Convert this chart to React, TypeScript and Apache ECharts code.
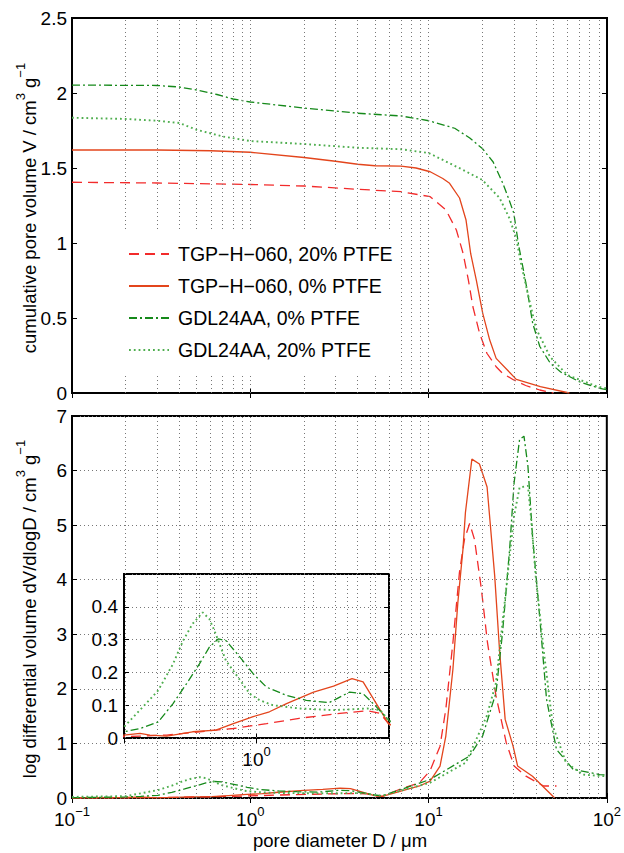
import React, { useEffect, useRef } from 'react';
import * as echarts from 'echarts';

const FONT = '"Liberation Sans", Arial, Helvetica, sans-serif';

// Series names (legend order)
const NAMES = ['TGP−H−060, 20% PTFE', 'TGP−H−060, 0% PTFE', 'GDL24AA, 0% PTFE', 'GDL24AA, 20% PTFE'];

// ---- Top panel: cumulative pore volume (cm^3/g) vs pore diameter (µm)
const cumD_TGP20 = [0.1, 0.3, 1.0, 2.0, 4.0, 7.0, 10.2, 12.5, 14.3, 15.6, 16.7, 17.7, 19.3, 21.2, 23.9, 26, 30, 35, 42, 50];
const cumV_TGP20 = [1.405, 1.40, 1.39, 1.38, 1.358, 1.342, 1.309, 1.22, 1.087, 0.93, 0.753, 0.575, 0.398, 0.265, 0.175, 0.13, 0.087, 0.05, 0.02, 0.0];

const cumD_TGP0 = [0.1, 0.3, 0.6, 1.0, 2.0, 3.0, 4.0, 5.0, 7.0, 8.5, 10.2, 12.0, 13.1, 14.9, 16.2, 17.2, 18.5, 20.1, 22.0, 23.9, 31, 42.3, 61.5];
const cumV_TGP0 = [1.62, 1.62, 1.615, 1.605, 1.57, 1.545, 1.525, 1.515, 1.513, 1.50, 1.475, 1.43, 1.398, 1.30, 1.153, 0.93, 0.753, 0.531, 0.353, 0.231, 0.091, 0.042, 0.0];

const cumD_GDL0 = [0.1, 0.3, 0.4, 0.5, 0.65, 0.8, 1.0, 2.0, 4.0, 7.0, 10, 14, 17, 20, 23, 26, 28, 30, 32, 34, 36, 38.3, 42, 48, 55, 70, 91, 100];
const cumV_GDL0 = [2.053, 2.05, 2.04, 2.02, 1.99, 1.96, 1.94, 1.90, 1.865, 1.847, 1.815, 1.765, 1.70, 1.63, 1.54, 1.40, 1.30, 1.20, 0.98, 0.82, 0.66, 0.465, 0.31, 0.20, 0.14, 0.075, 0.031, 0.022];

const cumD_GDL20 = [0.1, 0.2, 0.3, 0.4, 0.5, 0.7, 1.0, 2.0, 4.0, 7.0, 10, 15.6, 20, 25, 28.5, 31, 33, 36, 40, 48, 60, 87, 100];
const cumV_GDL20 = [1.835, 1.827, 1.815, 1.80, 1.755, 1.71, 1.68, 1.66, 1.635, 1.625, 1.60, 1.487, 1.42, 1.30, 1.16, 1.03, 0.86, 0.66, 0.43, 0.24, 0.12, 0.045, 0.03];

// ---- Bottom panel: log differential volume dV/dlogD
const difD_TGP20 = [0.1, 0.2, 0.336, 0.5, 0.755, 1.13, 1.68, 2.55, 3.83, 4.49, 4.97, 5.5, 6.9, 8.9, 10.2, 11.6, 12.5, 13.7, 14.9, 15.9, 17, 18.1, 19.8, 21.4, 23.9, 27.3, 30.2, 35.2, 44.2, 52.2];
const difV_TGP20 = [0, 0.004, 0.009, 0.019, 0.029, 0.044, 0.06, 0.073, 0.083, 0.075, 0.044, 0.03, 0.16, 0.28, 0.5, 0.95, 1.63, 2.85, 4.13, 4.74, 5.03, 4.74, 3.82, 2.85, 1.87, 1.01, 0.586, 0.40, 0.22, 0.22];

const difD_TGP0 = [0.1, 0.2, 0.243, 0.274, 0.336, 0.46, 0.61, 0.755, 0.96, 1.17, 1.44, 2.0, 2.55, 3.19, 3.65, 4.97, 5.5, 7.4, 8.9, 10.2, 11.6, 12.5, 13.7, 14.6, 15.6, 16.1, 17.5, 19.3, 21.3, 23.5, 25, 26.9, 29.8, 31.6, 38.3, 51];
const difV_TGP0 = [0.0, 0.009, 0.014, 0.009, 0.006, 0.019, 0.024, 0.044, 0.065, 0.08, 0.105, 0.14, 0.158, 0.181, 0.171, 0.044, 0.03, 0.15, 0.22, 0.31, 0.586, 1.136, 2.36, 3.58, 4.56, 5.23, 6.21, 6.12, 5.70, 4.07, 2.72, 1.44, 0.95, 0.586, 0.40, 0.0];

const difD_GDL0 = [0.1, 0.2, 0.243, 0.303, 0.363, 0.428, 0.5, 0.564, 0.628, 0.69, 0.82, 0.96, 1.13, 1.44, 1.83, 2.42, 3.1, 3.65, 4.29, 4.97, 5.5, 6.9, 8.5, 10.2, 17, 20.1, 23.9, 26, 28.5, 30.2, 32.4, 34.3, 36.1, 38.3, 42.3, 45.9, 52.2, 64.7, 91, 100];
const difV_GDL0 = [0.005, 0.019, 0.029, 0.049, 0.105, 0.166, 0.226, 0.277, 0.302, 0.297, 0.246, 0.196, 0.155, 0.13, 0.115, 0.108, 0.14, 0.135, 0.095, 0.055, 0.04, 0.15, 0.25, 0.34, 0.77, 1.136, 1.93, 3.03, 4.56, 5.78, 6.57, 6.63, 6.08, 4.80, 3.21, 1.81, 0.89, 0.526, 0.43, 0.42];

const difD_GDL20 = [0.1, 0.2, 0.252, 0.303, 0.363, 0.41, 0.46, 0.52, 0.564, 0.6, 0.69, 0.82, 0.92, 1.04, 1.22, 1.68, 2.55, 3.83, 4.49, 4.97, 5.5, 6.9, 10.2, 16.2, 21.2, 23.9, 26, 28.5, 30.2, 32.4, 36.1, 37.5, 39.9, 44.2, 49.8, 59, 73.2, 94.5, 100];
const difV_GDL20 = [0.02, 0.034, 0.095, 0.145, 0.226, 0.297, 0.348, 0.383, 0.363, 0.327, 0.236, 0.176, 0.135, 0.115, 0.10, 0.09, 0.085, 0.09, 0.085, 0.055, 0.04, 0.13, 0.28, 0.65, 1.50, 2.11, 3.21, 4.43, 5.17, 5.69, 5.72, 5.17, 4.07, 2.72, 1.32, 0.65, 0.43, 0.40, 0.40];

// Log grid positions (minor + major decades, inside the axis range)
const GRID_MANTISSAS = [1, 2, 3, 4, 5, 6, 7, 8, 9];
const GRID_DECADES = [-1, 0, 1];

const STYLES = [
  { color: '#f22b2b', type: [10, 6] as any, width: 1.3 },
  { color: '#e3451c', type: 'solid' as any, width: 1.3 },
  { color: '#15891a', type: [8, 3, 2, 3] as any, width: 1.3 },
  { color: '#4fae4f', type: [1.8, 3] as any, width: 1.9 },
];

export default function App() {
  const ref = useRef<HTMLDivElement>(null);

  useEffect(() => {
    if (!ref.current) return;
    const chart = echarts.init(ref.current, null, { renderer: 'svg' });

    const gridD: number[] = [];
    GRID_DECADES.forEach((e) =>
      GRID_MANTISSAS.forEach((m) => {
        const v = +(m * Math.pow(10, e)).toPrecision(3);
        if (v > 0.1 + 1e-9 && v < 100 - 1e-9) gridD.push(v);
      })
    );
    const insetGridD = gridD.filter((v) => v > 0.2 + 1e-9 && v < 5 - 1e-9);

    const dotted = { type: [1, 3] as any, color: '#777', width: 1 };
    const tick = { show: true, inside: true, length: 5, lineStyle: { color: '#000', width: 1 } };
    const labelFont = { fontFamily: FONT, fontSize: 19, color: '#000' };
    const supRich = {
      b: { fontFamily: FONT, fontSize: 19, color: '#000', lineHeight: 28 },
      s: { fontFamily: FONT, fontSize: 13, color: '#000', lineHeight: 14, verticalAlign: 'top' },
    };
    const powLabel = (v: number) => {
      const l = Math.log10(v);
      const e = Math.round(l);
      if (Math.abs(l - e) > 1e-6) return '';
      return '{b|10}{s|' + (e < 0 ? '−' + -e : String(e)) + '}';
    };

    const xBase = (gridIndex: number, min: number, max: number, position: string, extra: any = {}) => ({
      gridIndex, type: 'log', logBase: 10, min, max, position,
      axisLine: { show: false }, axisTick: tick,
      axisLabel: { show: false }, splitLine: { show: false }, ...extra,
    });
    const yBase = (gridIndex: number, min: number, max: number, interval: number, position: string, extra: any = {}) => ({
      gridIndex, type: 'value', min, max, interval, position,
      axisLine: { show: false }, axisTick: tick,
      axisLabel: { show: false }, splitLine: { show: false }, ...extra,
    });

    const mk = (i: number, D: number[], V: number[], xi: number, yi: number, z: number) => ({
      name: NAMES[i], type: 'line', xAxisIndex: xi, yAxisIndex: yi, z,
      data: D.map((d, k) => [d, V[k]]),
      showSymbol: false, symbol: 'none', clip: true, silent: true,
      lineStyle: { ...STYLES[i] }, itemStyle: { color: STYLES[i].color },
    });

    const gridLines = (xi: number, yi: number, vals: number[], z: number) => ({
      type: 'line', xAxisIndex: xi, yAxisIndex: yi, data: [], z, silent: true,
      markLine: {
        silent: true, symbol: 'none', label: { show: false }, animation: false,
        lineStyle: dotted, emphasis: { disabled: true },
        data: vals.map((v) => ({ xAxis: v })),
      },
    });

    const cum = [[cumD_TGP20, cumV_TGP20], [cumD_TGP0, cumV_TGP0], [cumD_GDL0, cumV_GDL0], [cumD_GDL20, cumV_GDL20]];
    const dif = [[difD_TGP20, difV_TGP20], [difD_TGP0, difV_TGP0], [difD_GDL0, difV_GDL0], [difD_GDL20, difV_GDL20]];

    const titleRich = {
      n: { fontFamily: FONT, fontSize: 18.5, fill: '#000', lineHeight: 30 },
      s: { fontFamily: FONT, fontSize: 13, fill: '#000', lineHeight: 14, verticalAlign: 'top' },
    };

    chart.setOption({
      animation: false,
      backgroundColor: '#fff',
      grid: [
        { left: 72, top: 18, width: 535, height: 375, show: true, borderColor: '#000', borderWidth: 2, z: 0 },
        { left: 72, top: 416, width: 535, height: 382, show: true, borderColor: '#000', borderWidth: 2, z: 0 },
        { left: 124, top: 574, width: 265, height: 164, show: true, borderColor: '#000', borderWidth: 2, backgroundColor: '#fff', z: 3 },
      ],
      xAxis: [
        xBase(0, 0.1, 100, 'bottom'),
        xBase(0, 0.1, 100, 'top'),
        xBase(1, 0.1, 100, 'bottom', { axisLabel: { show: true, margin: 7, formatter: powLabel, rich: supRich } }),
        xBase(1, 0.1, 100, 'top'),
        xBase(2, 0.2, 5, 'bottom', { z: 4, axisLabel: { show: true, margin: 7, formatter: powLabel, rich: supRich } }),
        xBase(2, 0.2, 5, 'top', { z: 4 }),
      ],
      yAxis: [
        yBase(0, 0, 2.5, 0.5, 'left', { axisLabel: { show: true, margin: 5, ...labelFont } }),
        yBase(0, 0, 2.5, 0.5, 'right'),
        yBase(1, 0, 7, 1, 'left', { axisLabel: { show: true, margin: 5, ...labelFont }, splitLine: { show: true, lineStyle: dotted } }),
        yBase(1, 0, 7, 1, 'right'),
        yBase(2, 0, 0.5, 0.1, 'left', {
          z: 4,
          axisLabel: { show: true, margin: 6, ...labelFont, formatter: (v: number) => (v > 0.45 ? '' : String(+v.toFixed(1))) },
          splitLine: { show: true, lineStyle: dotted },
        }),
        yBase(2, 0, 0.5, 0.1, 'right', { z: 4 }),
      ],
      legend: {
        data: NAMES, orient: 'vertical', left: 115, top: 230,
        backgroundColor: '#fff', padding: [14, 5, 14, 13],
        itemWidth: 40, itemHeight: 14, itemGap: 12, selectedMode: false, z: 6,
        itemStyle: { opacity: 0 },
        textStyle: { fontFamily: FONT, fontSize: 19.5, color: '#000', padding: [0, 0, 0, 4] },
      },
      graphic: [
        {
          type: 'text', x: 29, y: 208, rotation: Math.PI / 2, silent: true,
          style: { text: '{n|cumulative pore volume V / cm}{s|3}{n| g}{s|−1}', rich: titleRich, align: 'center', verticalAlign: 'middle', fontFamily: FONT, fontSize: 18.5 },
        },
        {
          type: 'text', x: 29, y: 609, rotation: Math.PI / 2, silent: true,
          style: { text: '{n|log differential volume dV/dlogD / cm}{s|3}{n| g}{s|−1}', rich: titleRich, align: 'center', verticalAlign: 'middle', fontFamily: FONT, fontSize: 18.5 },
        },
        {
          type: 'text', x: 340, y: 840, silent: true,
          style: { text: 'pore diameter D / μm', fontFamily: FONT, fontSize: 18.5, fill: '#000', align: 'center', verticalAlign: 'middle' },
        },
      ],
      series: [
        gridLines(0, 0, gridD, 1),
        gridLines(2, 2, gridD, 1),
        gridLines(4, 4, insetGridD, 4),
        ...cum.map(([D, V], i) => mk(i, D, V, 0, 0, 2)),
        ...dif.map(([D, V], i) => mk(i, D, V, 2, 2, 2)),
        ...dif.map(([D, V], i) => mk(i, D, V, 4, 4, 5)),
      ],
    });

    return () => chart.dispose();
  }, []);

  return <div ref={ref} style={{ position: 'absolute', left: 0, top: 0, width: 624, height: 853 }} />;
}
